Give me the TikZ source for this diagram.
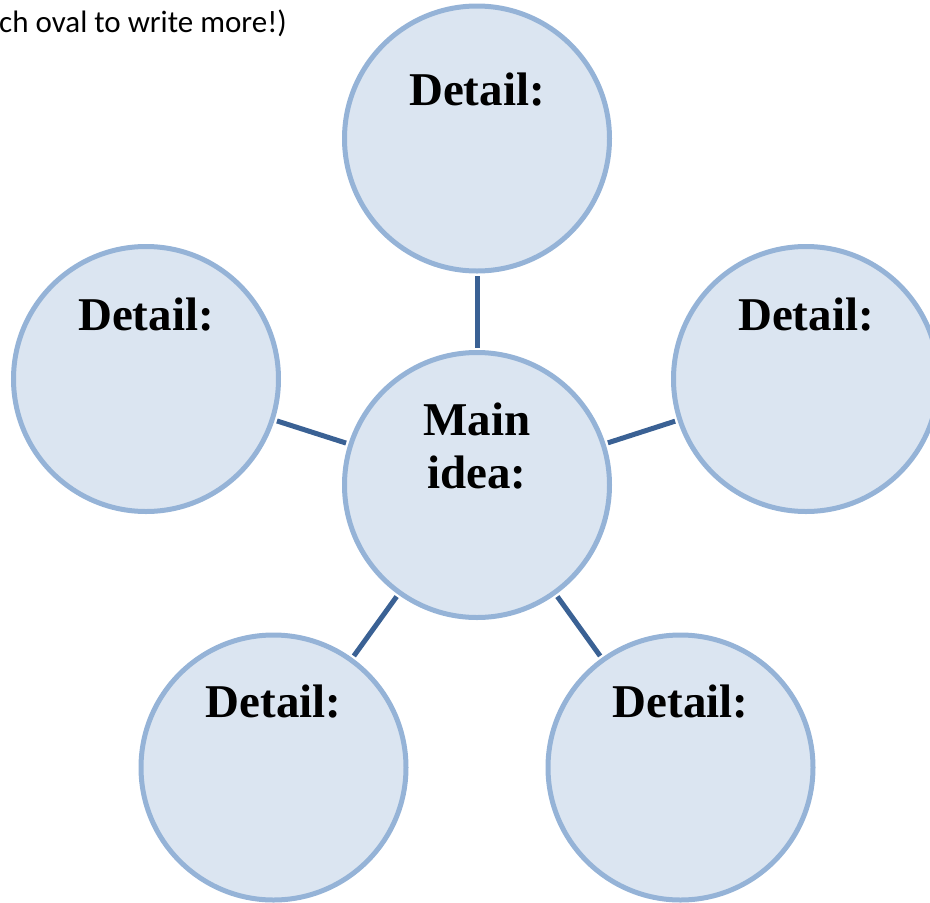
\documentclass[tikz,border=0pt]{standalone}
\usepackage{fontspec}
\newfontfamily\calibri{Carlito}
\newfontfamily\headfont{Liberation Serif}
\definecolor{fillc}{HTML}{DBE5F1}
\definecolor{ringc}{HTML}{95B3D7}
\definecolor{linkc}{HTML}{3A6194}
\begin{document}
\begin{tikzpicture}[x=1pt,y=-1pt,
  bubble/.style={circle,draw=ringc,fill=fillc,line width=5pt,minimum size=265pt,inner sep=0pt},
  link/.style={draw=linkc,line width=5pt,shorten <=2.5pt,shorten >=2.5pt},
  goth/.style={font=\headfont\bfseries\fontsize{47}{52}\selectfont,anchor=base,inner sep=0pt,text=black},
  hint/.style={font=\calibri\fontsize{31}{36}\selectfont,anchor=base east,inner sep=0pt,text=black}]
\useasboundingbox (0,0) rectangle (930,903);
\node[bubble] (main) at (477,485) {};
\node[bubble] (dtop) at (477,138.5) {};
\node[bubble] (dleft) at (146,379) {};
\node[bubble] (dright) at (806,379) {};
\node[bubble] (dbl) at (273.5,767.5) {};
\node[bubble] (dbr) at (680.5,767.5) {};
\draw[link] (main) -- (dtop);
\draw[link] (main) -- (dleft);
\draw[link] (main) -- (dright);
\draw[link] (main) -- (dbl);
\draw[link] (main) -- (dbr);
\node[goth] (ttop) at ([yshift=33pt]dtop.center) {Detail:};
\node[goth] (tleft) at ([yshift=49pt]dleft.center) {Detail:};
\node[goth] (tright) at ([yshift=49pt]dright.center) {Detail:};
\node[goth] (tbl) at ([yshift=50pt]dbl.center) {Detail:};
\node[goth] (tbr) at ([yshift=50pt]dbr.center) {Detail:};
\node[goth] (mone) at ([yshift=50pt]main.center) {Main};
\node[goth] (mtwo) at ([yshift=-3pt]main.center) {idea:};
\node[hint] (note) at (287,32) {ch oval to write more!)};
\end{tikzpicture}
\end{document}
